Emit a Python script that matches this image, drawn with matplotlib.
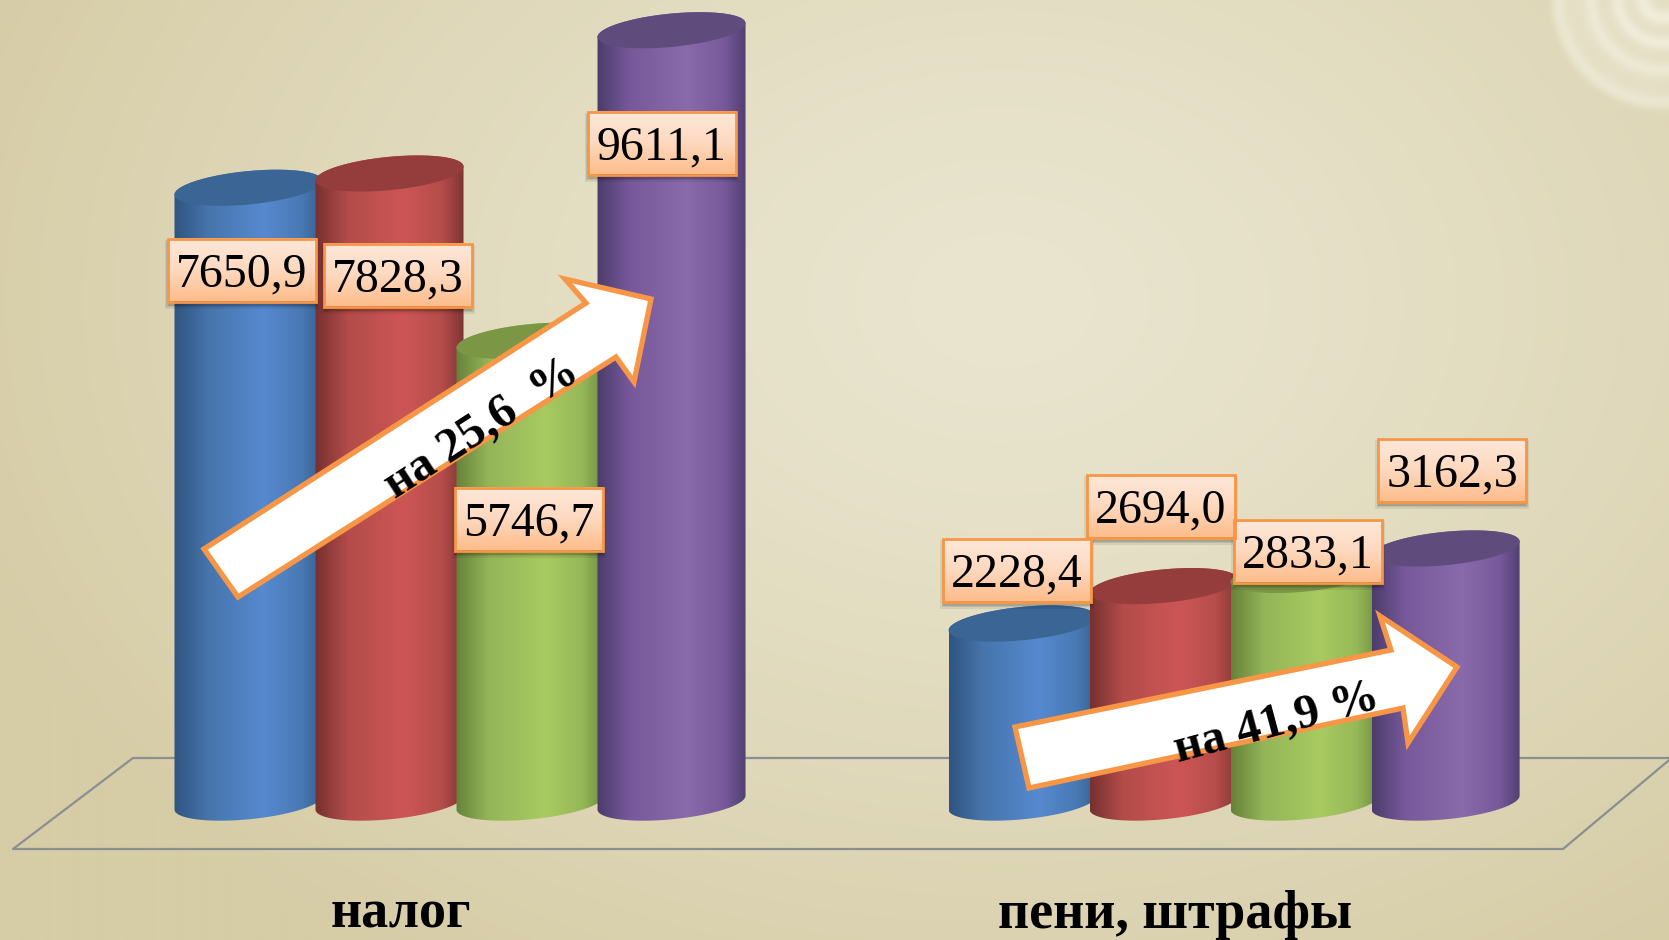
import numpy as np
import matplotlib
matplotlib.use('Agg')
import matplotlib.pyplot as plt
from matplotlib.colors import LinearSegmentedColormap
from matplotlib.patches import PathPatch, Polygon, Rectangle
from matplotlib.path import Path

W, H = 1669, 940

# data
groups = ['налог', 'пени, штрафы']
nalog = [7650.9, 7828.3, 5746.7, 9611.1]
peni = [2228.4, 2694.0, 2833.1, 3162.3]
value_labels = [['7650,9', '7828,3', '5746,7', '9611,1'],
                ['2228,4', '2694,0', '2833,1', '3162,3']]
arrow_labels = ['на 25,6  %', 'на 41,9 %']

# layout, full size pixels
group_x = [0, 5.49]
label_boxes = [[(241.5, 270), (398, 275), (529, 519), (661.5, 143)],
               [(1017, 570), (1161, 506), (1308, 551), (1452, 470)]]
arrow1 = [(204, 549), (238, 597), (616, 357), (634, 382), (651, 299), (565, 279), (586, 303)]
arrow2 = [(1015, 727), (1029, 788), (1403, 708), (1408, 743), (1457, 667), (1380, 616), (1391, 650)]
BOX_W, BOX_H = 148, 63

# edge, mid, light, mid, edge
side_colors = [['#2f5480', '#4674ab', '#5689cf', '#4a7ab5', '#35608f'],
               ['#76302f', '#b34c4a', '#cd5655', '#b54d4b', '#7f3534'],
               ['#66823a', '#94b558', '#a8ca60', '#96b858', '#6c8a3f'],
               ['#4c3c6b', '#77599b', '#896bab', '#785a9c', '#523f72']]
top_colors = ['#3a6595', '#943d3c', '#7b9745', '#604c7c']


def make_background():
    yy, xx = np.mgrid[0:H // 2, 0:W // 2] * 2.0
    d = np.hypot((xx - 1000) / 1100, (yy - 300) / 800)
    t = np.clip(d, 0, 1)[..., None] ** 1.3
    img = np.array([233, 229, 207]) * (1 - t) + np.array([214, 204, 166]) * t
    # swirl in the top right corner
    r = np.hypot(xx - 1660, yy + 3)
    glow = np.zeros_like(r)
    for radius, sigma, amp in [(106, 6, 0.5), (72, 7, 0.35), (45, 7, 0.45), (20, 8, 0.5)]:
        glow += amp * np.exp(-((r - radius) / sigma) ** 2)
    glow += 0.3 * np.clip((106 - r) / 6, 0, 1)
    glow = np.clip(glow, 0, 1)[..., None]
    img = img * (1 - glow) + np.array([245, 243, 228]) * glow
    return img / 255


def draw_cylinder(ax, cx, value, colors, top_color, z):
    a = 0.525
    b = 208
    tilt = 86
    t = np.linspace(0, 2 * np.pi, 100)
    ex = a * np.cos(t)
    ey = b * np.sin(t) + tilt * np.cos(t)
    # body: top half of the top ellipse, then bottom half of the base ellipse
    upper = np.column_stack([cx + ex[:50], value + ey[:50]])
    lower = np.column_stack([cx + ex[50:], ey[50:]])
    pts = np.vstack([upper, lower, upper[:1]])
    body = PathPatch(Path(pts), facecolor='none', edgecolor='none', zorder=z)
    ax.add_patch(body)
    cmap = LinearSegmentedColormap.from_list('side', list(zip([0, 0.22, 0.6, 0.85, 1], colors)))
    im = ax.imshow(np.linspace(0, 1, 256).reshape(1, -1), cmap=cmap, aspect='auto',
                   extent=(cx - a, cx + a, -400, value + 400), zorder=z)
    im.set_clip_path(body)
    ax.add_patch(Polygon(np.column_stack([cx + ex, value + ey]), closed=True,
                         facecolor=top_color, edgecolor='none', zorder=z + 0.1))


def draw_label(ax, x, y, text):
    l, t = x - BOX_W / 2, y - BOX_H / 2
    # soft shadow
    for grow, alpha in [(3, 0.07), (1.5, 0.09), (0, 0.12)]:
        ax.add_patch(Rectangle((l - grow, t + 4 - grow), BOX_W + 2 * grow, BOX_H + 2 * grow,
                               facecolor='#000000', alpha=alpha, edgecolor='none', zorder=5))
    cmap = LinearSegmentedColormap.from_list('box', ['#fee8da', '#fdd9bf', '#fdbd8c'])
    ax.imshow(np.linspace(0, 1, 64).reshape(-1, 1), cmap=cmap, aspect='auto',
              extent=(l, l + BOX_W, t + BOX_H, t), zorder=6)
    ax.add_patch(Rectangle((l, t), BOX_W, BOX_H, facecolor='none', edgecolor='#f79646',
                           linewidth=2, zorder=7))
    ax.text(x, y + 4, text, ha='center', va='center', fontsize=34.5, color='black',
            family='Liberation Serif', zorder=8)


def draw_arrow(ax, pts):
    ax.add_patch(Polygon(pts, closed=True, facecolor='white', edgecolor='#f79646',
                         linewidth=3.8, joinstyle='miter', zorder=9))


fig = plt.figure(figsize=(W / 100, H / 100), dpi=100)

# background and floor, pixel coordinates
ax_bg = fig.add_axes([0, 0, 1, 1])
ax_bg.imshow(make_background(), extent=(0, W, H, 0), aspect='auto', interpolation='bilinear')
ax_bg.plot([W + 5, 133, 13, 1563, W + 5], [758, 758, 849, 849, 756], color='#8b8f90', linewidth=1.6)
ax_bg.set_xlim(0, W)
ax_bg.set_ylim(H, 0)
ax_bg.axis('off')

# cylinders, value scale: 1 x unit = one cylinder step, y in value units
ax = fig.add_axes([0, 0, 1, 1])
ax.patch.set_alpha(0)
series = [nalog, peni]
z = 2
for g, vals in enumerate(series):
    for i, v in enumerate(vals):
        draw_cylinder(ax, group_x[g] + i, v, side_colors[i], top_colors[i], z)
        z += 0.2
ax.set_xlim(-248.5 / 141, (W - 248.5) / 141)
ax.set_ylim((802.6 - H) / 0.08036, 802.6 / 0.08036)
for g, name in enumerate(groups):
    ax.text(group_x[g] + 1.08, -1555, name, ha='center', va='baseline', fontsize=39,
            fontweight='bold', family='Liberation Serif', color='black', zorder=20)
ax.axis('off')

# labels and arrows, pixel coordinates
ax_top = fig.add_axes([0, 0, 1, 1])
ax_top.patch.set_alpha(0)
for g in range(2):
    for (x, y), text in zip(label_boxes[g], value_labels[g]):
        draw_label(ax_top, x, y, text)
draw_arrow(ax_top, arrow1)
draw_arrow(ax_top, arrow2)
ax_top.text(482, 428, arrow_labels[0], rotation=33, rotation_mode='anchor', ha='center', va='center',
            fontsize=35, fontweight='bold', family='Liberation Serif', zorder=10)
ax_top.text(1276, 723, arrow_labels[1], rotation=15, rotation_mode='anchor', ha='center', va='center',
            fontsize=35, fontweight='bold', family='Liberation Serif', zorder=10)
ax_top.set_xlim(0, W)
ax_top.set_ylim(H, 0)
ax_top.axis('off')

fig.savefig('out.png', dpi=100)
